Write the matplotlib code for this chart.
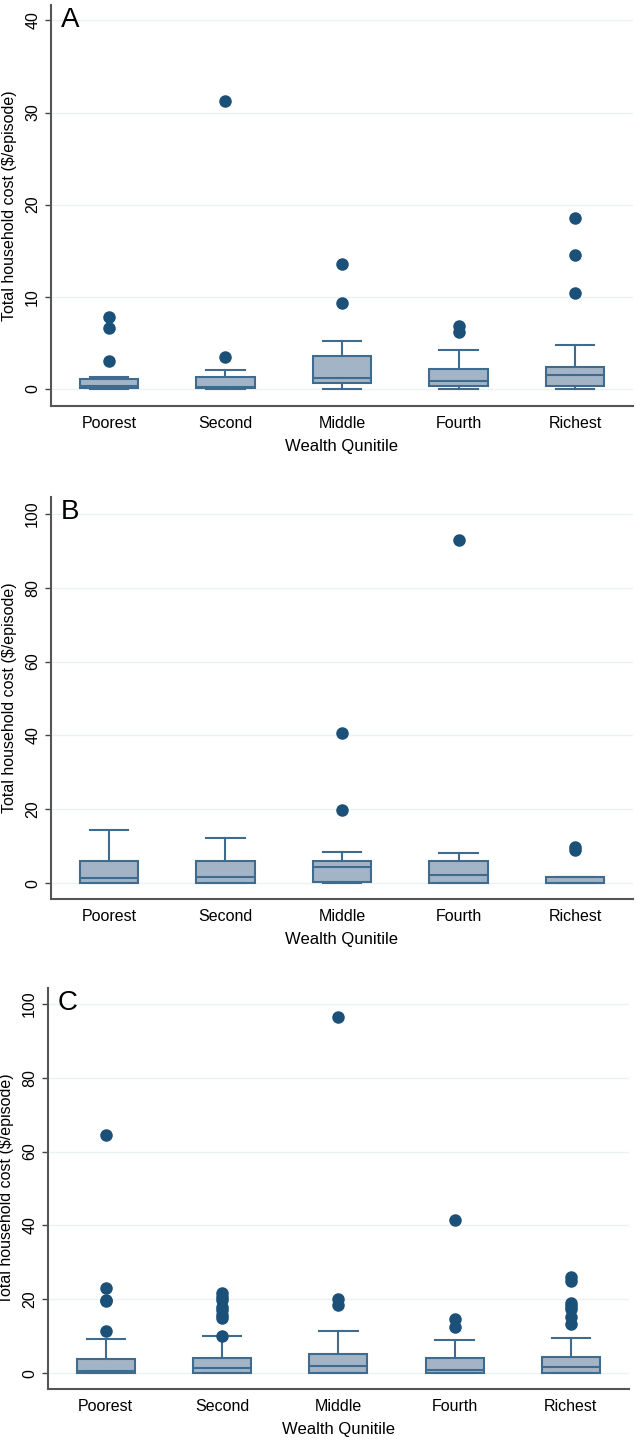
import matplotlib
matplotlib.use("Agg")
import matplotlib.pyplot as plt

plt.rcParams['font.family'] = ['Liberation Sans', 'DejaVu Sans']

quintiles = ['Poorest', 'Second', 'Middle', 'Fourth', 'Richest']

# panel A
a_q1 = [0.05, 0.1, 0.65, 0.29, 0.29]
a_med = [0.36, 0.18, 1.23, 0.9, 1.49]
a_q3 = [1.09, 1.27, 3.55, 2.17, 2.35]
a_lo = [0, 0, 0, 0, 0]
a_hi = [1.27, 2.1, 5.2, 4.17, 4.75]
a_out = [[3.08, 6.56, 7.75], [3.44, 31.3], [9.3, 13.55], [6.2, 6.8], [10.4, 14.57, 18.5]]

# panel B
b_q1 = [0, 0, 0.36, 0, 0]
b_med = [1.36, 1.54, 4.43, 2.08, 0]
b_q3 = [5.97, 5.9, 5.97, 5.97, 1.54]
b_lo = [0, 0, 0, 0, 0]
b_hi = [14.3, 12.2, 8.5, 8.05, 1.54]
b_out = [[], [], [19.9, 40.6], [92.9], [9.05, 9.8]]

# panel C
c_q1 = [0, 0, 0, 0, 0]
c_med = [0.45, 1.36, 1.9, 0.81, 1.63]
c_q3 = [3.9, 4.16, 5.07, 4.16, 4.25]
c_lo = [0, 0, 0, 0, 0]
c_hi = [9.14, 9.95, 11.3, 8.96, 9.5]
c_out = [[11.3, 19.4, 19.8, 23.0, 64.4],
         [10.1, 14.9, 15.8, 17.0, 17.9, 19.7, 20.6, 21.8],
         [18.55, 20.1, 96.5],
         [12.4, 14.75, 41.5],
         [13.2, 15.2, 17.3, 18.2, 19.1, 24.9, 25.9]]

fill = '#a3b4c6'
edge = '#3f6b8f'
dot = '#1b5079'

fig = plt.figure(figsize=(6.41, 14.43), dpi=100)


def panel(rect, q1, med, q3, lo, hi, out, ylim, yticks, letter):
    ax = fig.add_axes(rect)
    stats = []
    for i in range(5):
        stats.append(dict(q1=q1[i], med=med[i], q3=q3[i], whislo=lo[i],
                          whishi=hi[i], fliers=out[i]))
    ax.bxp(stats, positions=range(1, 6), widths=0.5, patch_artist=True,
           showfliers=True,
           boxprops=dict(facecolor=fill, edgecolor=edge, linewidth=1.5),
           medianprops=dict(color=edge, linewidth=1.5),
           whiskerprops=dict(color=edge, linewidth=1.5),
           capprops=dict(color=edge, linewidth=1.5),
           capwidths=0.33,
           flierprops=dict(marker='o', markerfacecolor=dot, markeredgecolor=dot,
                           markersize=8, linestyle='none'))
    ax.set_xlim(0.5, 5.5)
    ax.set_ylim(*ylim)
    ax.set_yticks(yticks)
    ax.set_xticks(range(1, 6))
    ax.set_xticklabels(quintiles, fontsize=11.5)
    ax.tick_params(axis='y', labelsize=11.5, labelrotation=90, length=4,
                   color='#444444', width=1)
    for lab in ax.get_yticklabels():
        lab.set_va('center')
    ax.tick_params(axis='x', length=0, pad=7)
    ax.grid(axis='y', color='#ebf2f4', linewidth=1)
    ax.set_axisbelow(True)
    for s in ['top', 'right']:
        ax.spines[s].set_visible(False)
    for s in ['left', 'bottom']:
        ax.spines[s].set_color('#555555')
        ax.spines[s].set_linewidth(1.5)
    ax.set_ylabel('Total household cost ($/episode)', fontsize=11.5, labelpad=6)
    ax.set_xlabel('Wealth Qunitile', fontsize=12, labelpad=6)
    ax.text(0.018, 0.995, letter, transform=ax.transAxes, fontsize=20,
            va='top', ha='left')
    return ax


panel([0.079, 0.7187, 0.909, 0.278], a_q1, a_med, a_q3, a_lo, a_hi, a_out,
      (-1.85, 41.7), [0, 10, 20, 30, 40], 'A')
panel([0.079, 0.377, 0.909, 0.2786], b_q1, b_med, b_q3, b_lo, b_hi, b_out,
      (-4.3, 104.6), [0, 20, 40, 60, 80, 100], 'B')
panel([0.0743, 0.0374, 0.907, 0.278], c_q1, c_med, c_q3, c_lo, c_hi, c_out,
      (-4.3, 104.3), [0, 20, 40, 60, 80, 100], 'C')

fig.savefig('out.png', dpi=100)
